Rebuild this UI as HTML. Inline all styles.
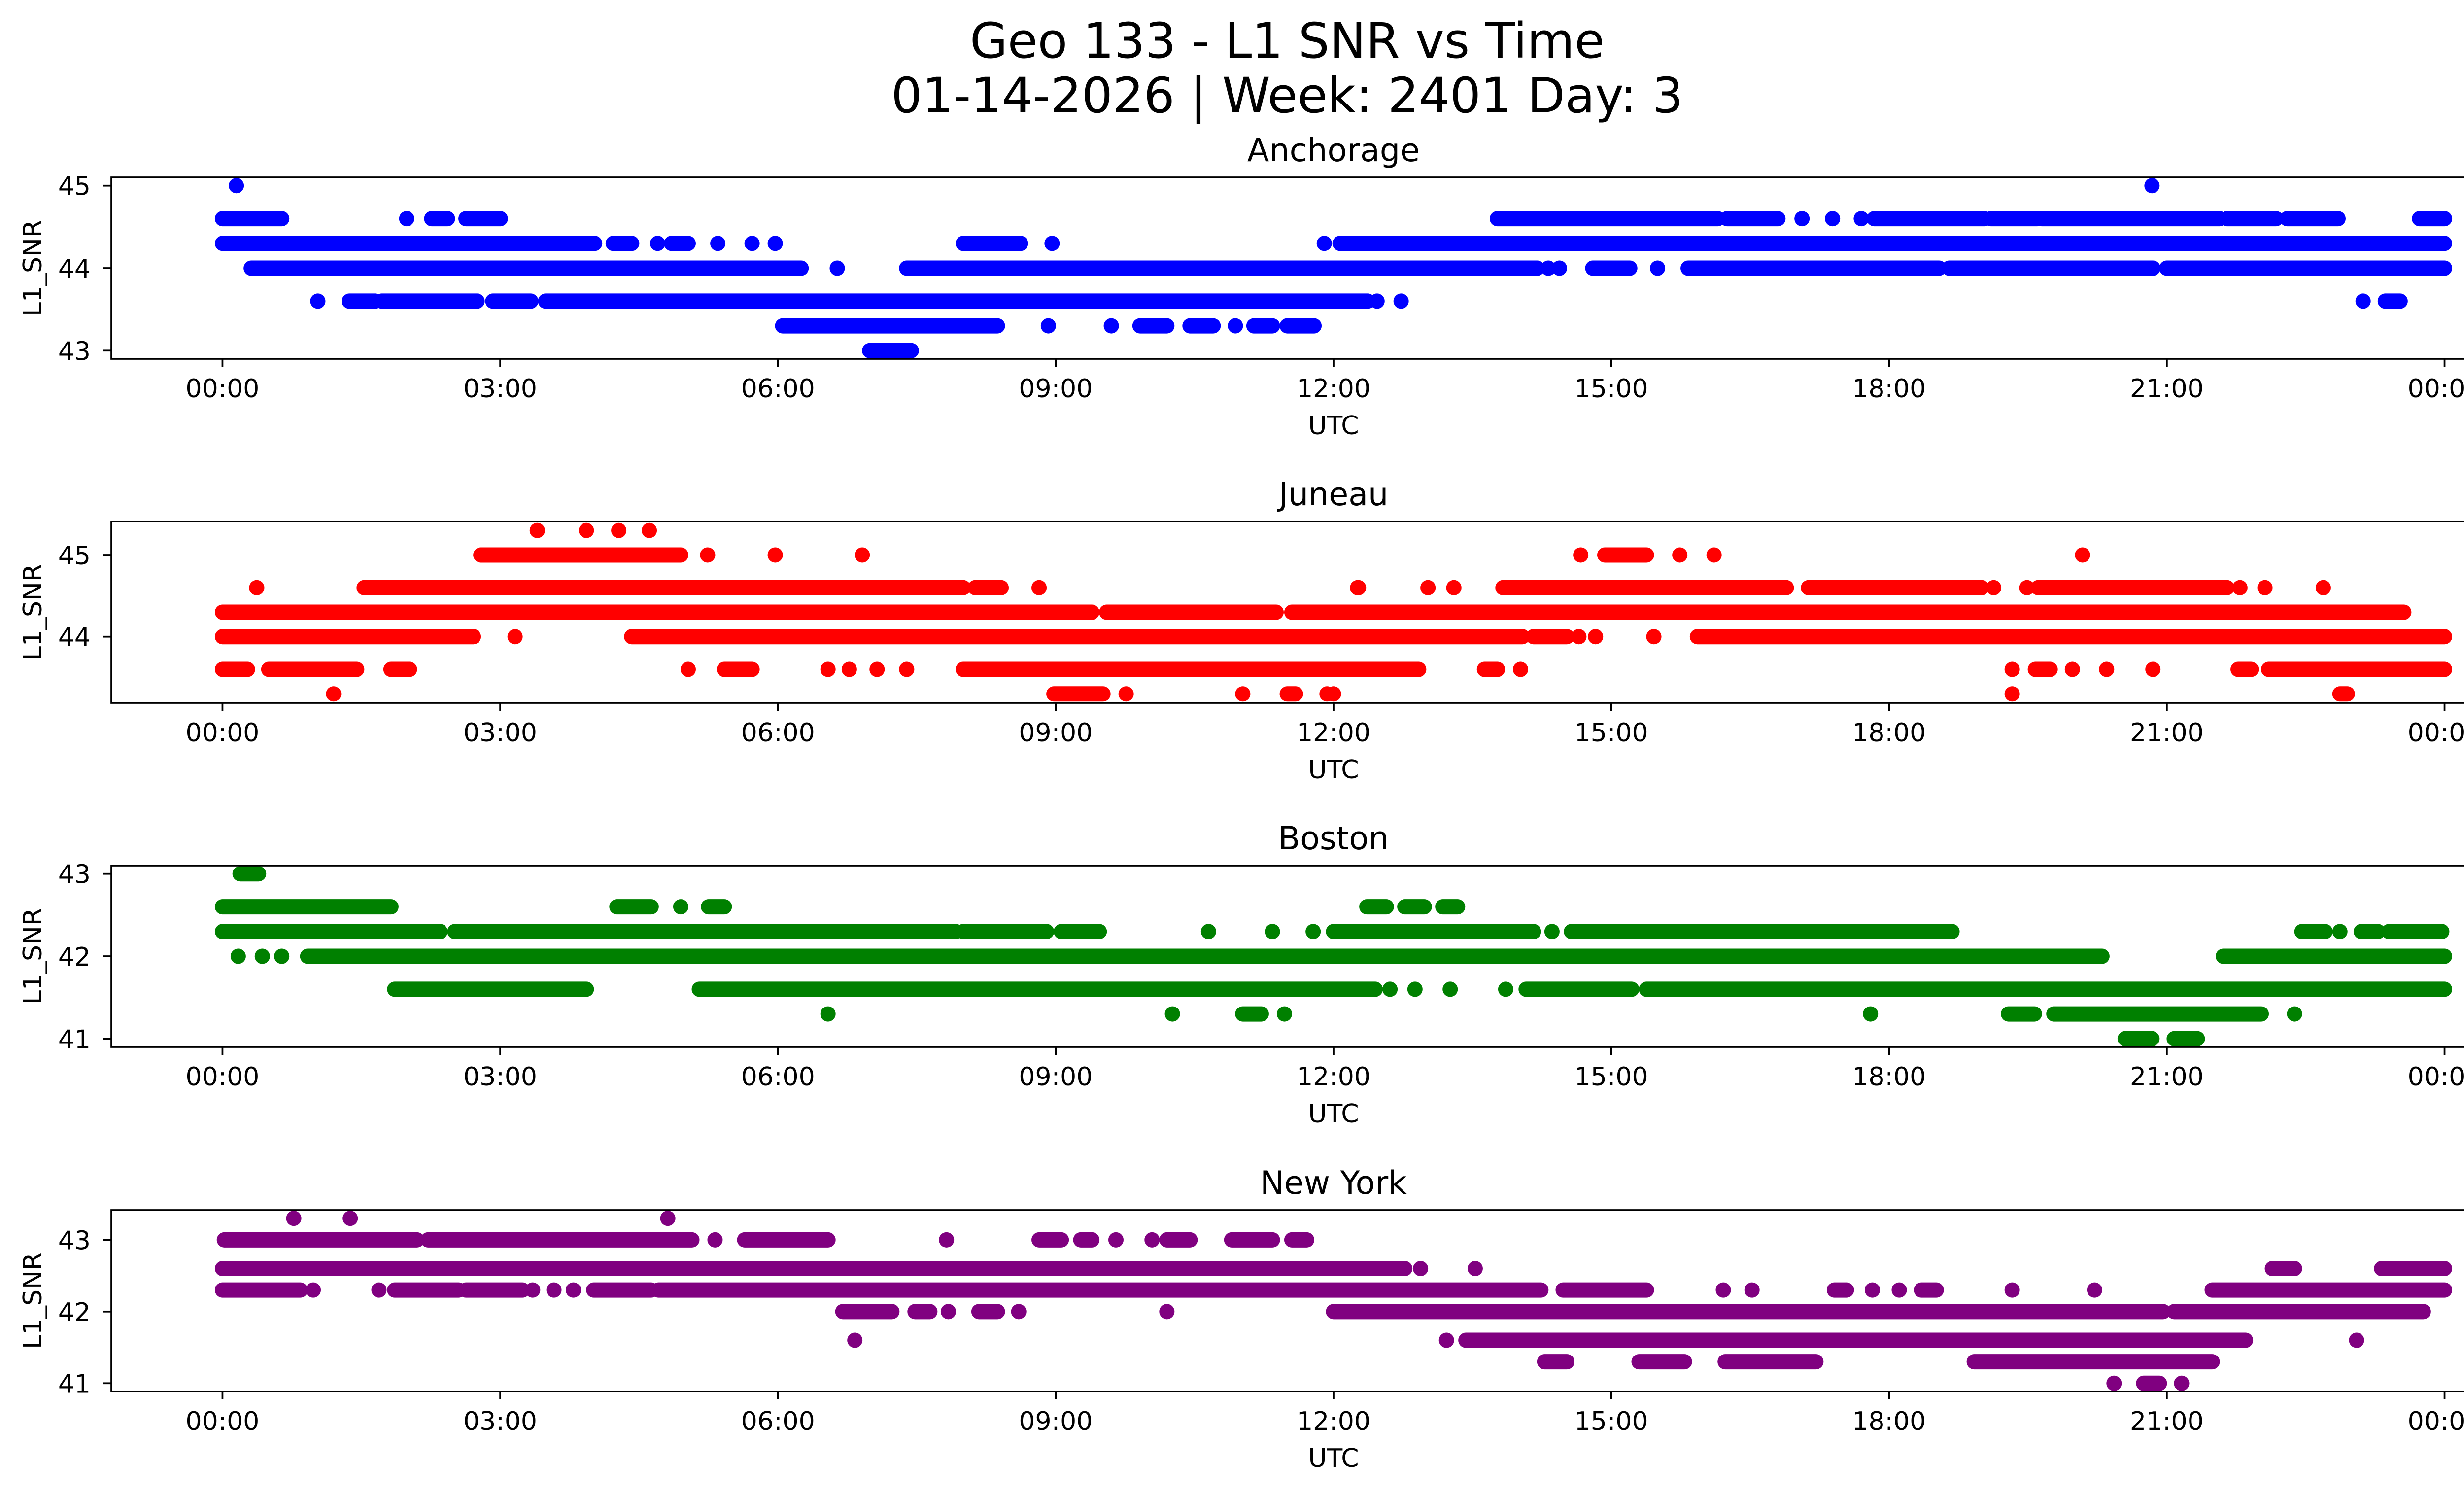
<!DOCTYPE html>
<html><head><meta charset="utf-8"><style>
html,body{margin:0;padding:0;background:#fff;}
svg{display:block;font-family:"DejaVu Sans","Liberation Sans",sans-serif;}
</style></head><body>
<svg id="fig" xmlns="http://www.w3.org/2000/svg" width="5225" height="3033" viewBox="0 0 5225 3033">
<rect width="5225" height="3033" fill="#fff"/>
<text x="2612" y="117" font-size="99" text-anchor="middle">Geo 133 - L1 SNR vs Time</text>
<text x="2612" y="228" font-size="99" text-anchor="middle">01-14-2026 | Week: 2401 Day: 3</text>
</svg>
<script>
const stations = ["Anchorage","Juneau","Boston","New York"];
const colors = ["#0000ff","#ff0000","#008000","#800080"];
const yLimits = [[42.9,45.1],[43.19,45.41],[40.9,43.1],[40.885,43.415]];
const yTicks = [[43,44,45],[44,45],[41,42,43],[41,42,43]];
const xTicks = [0,3,6,9,12,15,18,21,24];
const xTickLabels = ["00:00","03:00","06:00","09:00","12:00","15:00","18:00","21:00","00:00"];

// [SNR level, start hour, end hour]  (start==end -> single point)
const anchorageRuns = [
[45,0.15,0.15],[45,20.84,20.84],
[44.6,0,0.64],[44.6,1.99,1.99],[44.6,2.26,2.43],[44.6,2.63,3.0],[44.6,13.77,16.15],[44.6,16.25,16.8],[44.6,17.06,17.06],[44.6,17.39,17.39],[44.6,17.7,17.7],[44.6,17.84,19.03],[44.6,19.1,19.6],[44.6,19.65,21.57],[44.6,21.65,22.18],[44.6,22.3,22.85],[44.6,23.73,24],
[44.3,0,4.02],[44.3,4.22,4.42],[44.3,4.7,4.7],[44.3,4.85,5.03],[44.3,5.35,5.35],[44.3,5.72,5.72],[44.3,5.97,5.97],[44.3,8.0,8.62],[44.3,8.96,8.96],[44.3,11.9,11.9],[44.3,12.07,24],
[44,0.31,6.25],[44,6.64,6.64],[44,7.39,14.2],[44,14.32,14.32],[44,14.44,14.44],[44,14.8,15.2],[44,15.5,15.5],[44,15.83,18.54],[44,18.65,20.85],[44,21.0,24],
[43.6,1.03,1.03],[43.6,1.37,1.65],[43.6,1.72,2.75],[43.6,2.92,3.33],[43.6,3.49,12.37],[43.6,12.47,12.47],[43.6,12.73,12.73],[43.6,23.12,23.12],[43.6,23.36,23.52],
[43.3,6.05,8.37],[43.3,8.92,8.92],[43.3,9.6,9.6],[43.3,9.91,10.2],[43.3,10.45,10.7],[43.3,10.94,10.94],[43.3,11.14,11.34],[43.3,11.5,11.79],
[43,6.99,7.44]
];
const juneauRuns = [
[45.3,3.40,3.40],[45.3,3.93,3.93],[45.3,4.28,4.28],[45.3,4.61,4.61],
[45,2.79,4.95],[45,5.24,5.24],[45,5.97,5.97],[45,6.91,6.91],[45,14.67,14.67],[45,14.93,15.38],[45,15.74,15.74],[45,16.11,16.11],[45,20.09,20.09],
[44.6,0.37,0.37],[44.6,1.53,8.0],[44.6,8.13,8.41],[44.6,8.82,8.82],[44.6,12.26,12.27],[44.6,13.02,13.02],[44.6,13.3,13.3],[44.6,13.83,16.89],[44.6,17.13,19.0],[44.6,19.13,19.13],[44.6,19.49,19.49],[44.6,19.61,21.65],[44.6,21.79,21.79],[44.6,22.06,22.06],[44.6,22.69,22.69],
[44.3,0,9.39],[44.3,9.55,11.38],[44.3,11.55,23.56],
[44,0,2.71],[44,3.16,3.16],[44,4.42,14.04],[44,14.16,14.52],[44,14.65,14.65],[44,14.83,14.83],[44,15.46,15.46],[44,15.93,24],
[43.6,0,0.27],[43.6,0.5,1.45],[43.6,1.82,2.02],[43.6,5.03,5.03],[43.6,5.42,5.72],[43.6,6.54,6.54],[43.6,6.77,6.77],[43.6,7.07,7.07],[43.6,7.39,7.39],[43.6,8.0,12.92],[43.6,13.63,13.77],[43.6,14.02,14.02],[43.6,19.33,19.33],[43.6,19.58,19.74],[43.6,19.98,19.98],[43.6,20.35,20.35],[43.6,20.85,20.85],[43.6,21.77,21.91],[43.6,22.1,24],
[43.3,1.2,1.2],[43.3,8.98,9.51],[43.3,9.76,9.76],[43.3,11.02,11.02],[43.3,11.5,11.59],[43.3,11.93,11.93],[43.3,12.0,12.0],[43.3,19.33,19.33],[43.3,22.87,22.95]
];
const bostonRuns = [
[43,0.19,0.39],
[42.6,0,1.82],[42.6,4.26,4.63],[42.6,4.95,4.95],[42.6,5.25,5.42],[42.6,12.36,12.57],[42.6,12.77,12.98],[42.6,13.18,13.34],
[42.3,0,2.35],[42.3,2.51,7.92],[42.3,8.0,8.9],[42.3,9.06,9.47],[42.3,10.65,10.65],[42.3,11.34,11.34],[42.3,11.78,11.78],[42.3,12.0,14.16],[42.3,14.36,14.36],[42.3,14.57,18.68],[42.3,22.46,22.71],[42.3,22.87,22.87],[42.3,23.1,23.28],[42.3,23.4,23.97],
[42,0.17,0.17],[42,0.43,0.43],[42,0.64,0.64],[42,0.92,20.3],[42,21.61,24],
[41.6,1.86,3.93],[41.6,5.15,12.45],[41.6,12.61,12.61],[41.6,12.88,12.88],[41.6,13.26,13.26],[41.6,13.86,13.86],[41.6,14.08,15.22],[41.6,15.38,24],
[41.3,6.54,6.54],[41.3,10.26,10.26],[41.3,11.02,11.22],[41.3,11.47,11.47],[41.3,17.8,17.8],[41.3,19.29,19.57],[41.3,19.78,22.02],[41.3,22.38,22.38],
[41,20.55,20.84],[41,21.08,21.33]
];
const newYorkRuns = [
[43.3,0.77,0.77],[43.3,1.38,1.38],[43.3,4.81,4.81],
[43,0.02,2.1],[43,2.22,5.07],[43,5.32,5.32],[43,5.64,6.54],[43,7.82,7.82],[43,8.82,9.06],[43,9.27,9.39],[43,9.65,9.65],[43,10.04,10.04],[43,10.2,10.45],[43,10.9,11.34],[43,11.55,11.71],
[42.6,0,12.77],[42.6,12.94,12.94],[42.6,13.53,13.53],[42.6,22.14,22.38],[42.6,23.32,24],
[42.3,0,0.84],[42.3,0.98,0.98],[42.3,1.69,1.69],[42.3,1.86,2.55],[42.3,2.63,3.24],[42.3,3.35,3.35],[42.3,3.58,3.58],[42.3,3.79,3.79],[42.3,4.01,4.63],[42.3,4.71,14.24],[42.3,14.48,15.38],[42.3,16.21,16.21],[42.3,16.52,16.52],[42.3,17.41,17.54],[42.3,17.82,17.82],[42.3,18.11,18.11],[42.3,18.35,18.51],[42.3,19.33,19.33],[42.3,20.22,20.22],[42.3,21.49,24],
[42,6.7,7.23],[42,7.48,7.64],[42,7.84,7.84],[42,8.17,8.37],[42,8.6,8.6],[42,10.2,10.2],[42,12.0,20.96],[42,21.08,23.77],
[41.6,6.83,6.83],[41.6,13.22,13.22],[41.6,13.43,21.85],[41.6,23.05,23.05],
[41.3,14.28,14.52],[41.3,15.3,15.79],[41.3,16.23,17.21],[41.3,18.92,21.49],
[41,20.43,20.43],[41,20.75,20.92],[41,21.16,21.16]
];
const allRuns = [anchorageRuns, juneauRuns, bostonRuns, newYorkRuns];

const NS = "http://www.w3.org/2000/svg";
const svg = document.getElementById("fig");
const AX_L = 226, AX_R = 5186, AX_H = 368;
const axTops = [360, 1058, 1756, 2455];
const X_MIN = -1.2, X_MAX = 25.2, R = 15.5;
function mk(tag, attrs, parent){const e=document.createElementNS(NS,tag);for(const k in attrs)e.setAttribute(k,attrs[k]);(parent||svg).appendChild(e);return e;}
function xScale(h){return AX_L + (h - X_MIN)/(X_MAX - X_MIN)*(AX_R-AX_L);}

stations.forEach((name, i) => {
  const top = axTops[i], bot = top + AX_H;
  const [y0, y1] = yLimits[i];
  const yScale = v => bot - (v - y0)/(y1 - y0)*AX_H;
  const slug = name.toLowerCase().replace(/ /g,'-');
  const g = mk("g", {});
  
  
  const t = mk("text", {x:(AX_L+AX_R)/2, y:top-33, "font-size":65, "text-anchor":"middle"}, g);
  t.textContent = name;
  
  
  const series = mk("g", {fill:colors[i], stroke:colors[i]}, g);
  
  
  allRuns[i].forEach(r => {
    const y = yScale(r[0]);
    if (r[1] === r[2]) {
      const c = mk("circle", {cx:xScale(r[1]), cy:y, r:R, stroke:"none"}, series);
      
      
    } else {
      const l = mk("line", {x1:xScale(r[1]), x2:xScale(r[2]), y1:y, y2:y, "stroke-width":2*R, "stroke-linecap":"round"}, series);
      
      
    }
  });
  const frame = mk("rect", {x:AX_L, y:top, width:AX_R-AX_L, height:AX_H, fill:"none", stroke:"#000", "stroke-width":3.7}, g);
  
  
  xTicks.forEach((h, k) => {
    const x = xScale(h);
    const tk = mk("line", {x1:x, x2:x, y1:bot, y2:bot+16, stroke:"#000", "stroke-width":3.7}, g);
    
    
    const lb = mk("text", {x:x, y:bot+78, "font-size":52, "text-anchor":"middle"}, g);
    lb.textContent = xTickLabels[k];
    
    
  });
  yTicks[i].forEach(v => {
    const y = yScale(v);
    const tk = mk("line", {x1:AX_L-16, x2:AX_L, y1:y, y2:y, stroke:"#000", "stroke-width":3.7}, g);
    
    
    const lb = mk("text", {x:AX_L-42, y:y+19, "font-size":52, "text-anchor":"end"}, g);
    lb.textContent = String(v);
    
    
  });
  const xl = mk("text", {x:(AX_L+AX_R)/2, y:bot+153, "font-size":52, "text-anchor":"middle"}, g);
  xl.textContent = "UTC";
  
  
  const cy = top + AX_H/2;
  const yl = mk("text", {x:0, y:0, "font-size":52, "text-anchor":"middle", transform:`translate(84,${cy}) rotate(-90)`}, g);
  yl.textContent = "L1_SNR";
  
  
});
</script>
</body></html>
